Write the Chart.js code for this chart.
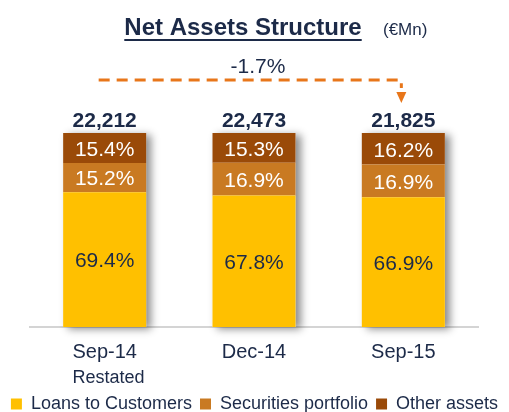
<!DOCTYPE html>
<html>
<head>
<meta charset="utf-8">
<script src="https://cdn.jsdelivr.net/npm/chart.js@4.4.1/dist/chart.umd.min.js"></script>
<style>
  html, body { margin: 0; padding: 0; background: #fff; }
  #wrap { width: 509px; height: 412px; position: relative; }
</style>
</head>
<body>
<div id="wrap"><canvas id="myChart"></canvas></div>
<script>
// data
const periods = ['Sep-14', 'Dec-14', 'Sep-15'];
const loans = [69.4, 67.8, 66.9];
const securities = [15.2, 16.9, 16.9];
const other = [15.4, 15.3, 16.2];
const totals = ['22,212', '22,473', '21,825'];
const change = '-1.7%';

const navy = '#1c2a48';
const fontFam = '"Liberation Sans", Arial, sans-serif';

// title, arrow, totals, shadow and "Restated" note
const extras = {
    id: 'extras',
    beforeDatasetsDraw(chart) {
        const ctx = chart.ctx;
        const metas = chart.getSortedVisibleDatasetMetas();
        const first = metas[0], last = metas[metas.length - 1];
        ctx.save();
        first.data.forEach((bar, i) => {
            const top = last.data[i].y;
            const w = bar.width;
            ctx.shadowColor = 'rgba(0,0,0,0.45)';
            ctx.shadowBlur = 8;
            ctx.shadowOffsetX = 5;
            ctx.shadowOffsetY = 2;
            ctx.fillStyle = '#fff';
            ctx.fillRect(bar.x - w / 2, top, w, bar.base - top);
        });
        ctx.restore();
    },
    afterDraw(chart) {
        const ctx = chart.ctx;
        const xs = chart.scales.x;
        const metas = chart.getSortedVisibleDatasetMetas();
        const last = metas[metas.length - 1];
        ctx.save();

        // title
        ctx.fillStyle = navy;
        ctx.font = 'bold 24px ' + fontFam;
        ctx.textAlign = 'center';
        ctx.textBaseline = 'alphabetic';
        const title = 'Net Assets Structure';
        const tw = ctx.measureText(title).width;
        ctx.fillText(title, 243, 35);
        ctx.fillRect(243 - tw / 2, 39, tw, 2);
        ctx.font = '17px ' + fontFam;
        ctx.textAlign = 'left';
        ctx.fillText('(€Mn)', 383, 35);

        // change arrow
        const x0 = xs.getPixelForValue(0) - 6;
        const x2 = xs.getPixelForValue(2) - 2;
        ctx.strokeStyle = '#e8761a';
        ctx.fillStyle = '#e8761a';
        ctx.lineWidth = 3;
        ctx.setLineDash([11, 7]);
        ctx.beginPath();
        ctx.moveTo(x0, 80);
        ctx.lineTo(x2, 80);
        ctx.lineTo(x2, 88);
        ctx.stroke();
        ctx.setLineDash([]);
        ctx.beginPath();
        ctx.moveTo(x2 - 5, 92);
        ctx.lineTo(x2 + 5, 92);
        ctx.lineTo(x2, 103);
        ctx.closePath();
        ctx.fill();
        ctx.fillStyle = navy;
        ctx.font = '21px ' + fontFam;
        ctx.textAlign = 'center';
        ctx.fillText(change, 258, 73);

        // totals above bars
        ctx.font = 'bold 21px ' + fontFam;
        last.data.forEach((bar, i) => {
            ctx.fillText(totals[i], bar.x, 127);
        });

        // second line under the first category
        ctx.font = '20px ' + fontFam;
        const lw = ctx.measureText(periods[0]).width;
        ctx.font = '18px ' + fontFam;
        ctx.textAlign = 'left';
        ctx.fillText('Restated', xs.getPixelForValue(0) - lw / 2, 383);
        ctx.restore();
    }
};

// labels inside segments
const segLabels = {
    id: 'segLabels',
    afterDatasetsDraw(chart) {
        const ctx = chart.ctx;
        ctx.save();
        ctx.font = '21px ' + fontFam;
        ctx.textAlign = 'center';
        ctx.textBaseline = 'middle';
        chart.getSortedVisibleDatasetMetas().forEach(meta => {
            const ds = chart.data.datasets[meta.index];
            meta.data.forEach((bar, i) => {
                ctx.fillStyle = ds.labelColor;
                ctx.fillText(ds.data[i].toFixed(1) + '%', bar.x, (bar.y + bar.base) / 2 + 2);
            });
        });
        ctx.restore();
    }
};

const hiddenAxis = (pos, w) => ({
    position: pos,
    display: true,
    grid: { display: false, drawTicks: false },
    border: { display: false },
    ticks: { display: false },
    afterFit(scale) { scale.width = w; }
});

new Chart(document.getElementById('myChart'), {
    type: 'bar',
    data: {
        labels: periods,
        datasets: [
            { label: 'Loans to Customers', data: loans, backgroundColor: '#ffc000', labelColor: navy },
            { label: 'Securities portfolio', data: securities, backgroundColor: '#c97a22', labelColor: '#ffffff' },
            { label: 'Other assets', data: other, backgroundColor: '#9a4a08', labelColor: '#ffffff' }
        ]
    },
    options: {
        responsive: true,
        maintainAspectRatio: false,
        animation: false,
        events: [],
        layout: { padding: { top: 133, left: 0, right: 0, bottom: -11 } },
        datasets: { bar: { categoryPercentage: 1, barPercentage: 0.556 } },
        scales: {
            x: {
                stacked: true,
                grid: { display: false, drawTicks: false },
                border: { display: true, color: '#d4d4d4', width: 2 },
                ticks: { color: navy, font: { family: fontFam, size: 20 }, padding: 13 },
                afterFit(scale) { scale.height = 60; }
            },
            y: Object.assign(hiddenAxis('left', 30), { stacked: true, min: 0, max: 100 }),
            yRight: Object.assign(hiddenAxis('right', 31), { min: 0, max: 100 })
        },
        plugins: {
            title: { display: false },
            tooltip: { enabled: false },
            legend: {
                position: 'bottom',
                labels: {
                    color: navy,
                    font: { family: fontFam, size: 18 },
                    boxWidth: 11,
                    boxHeight: 11,
                    padding: 8
                }
            }
        }
    },
    plugins: [extras, segLabels]
});
</script>
</body>
</html>
